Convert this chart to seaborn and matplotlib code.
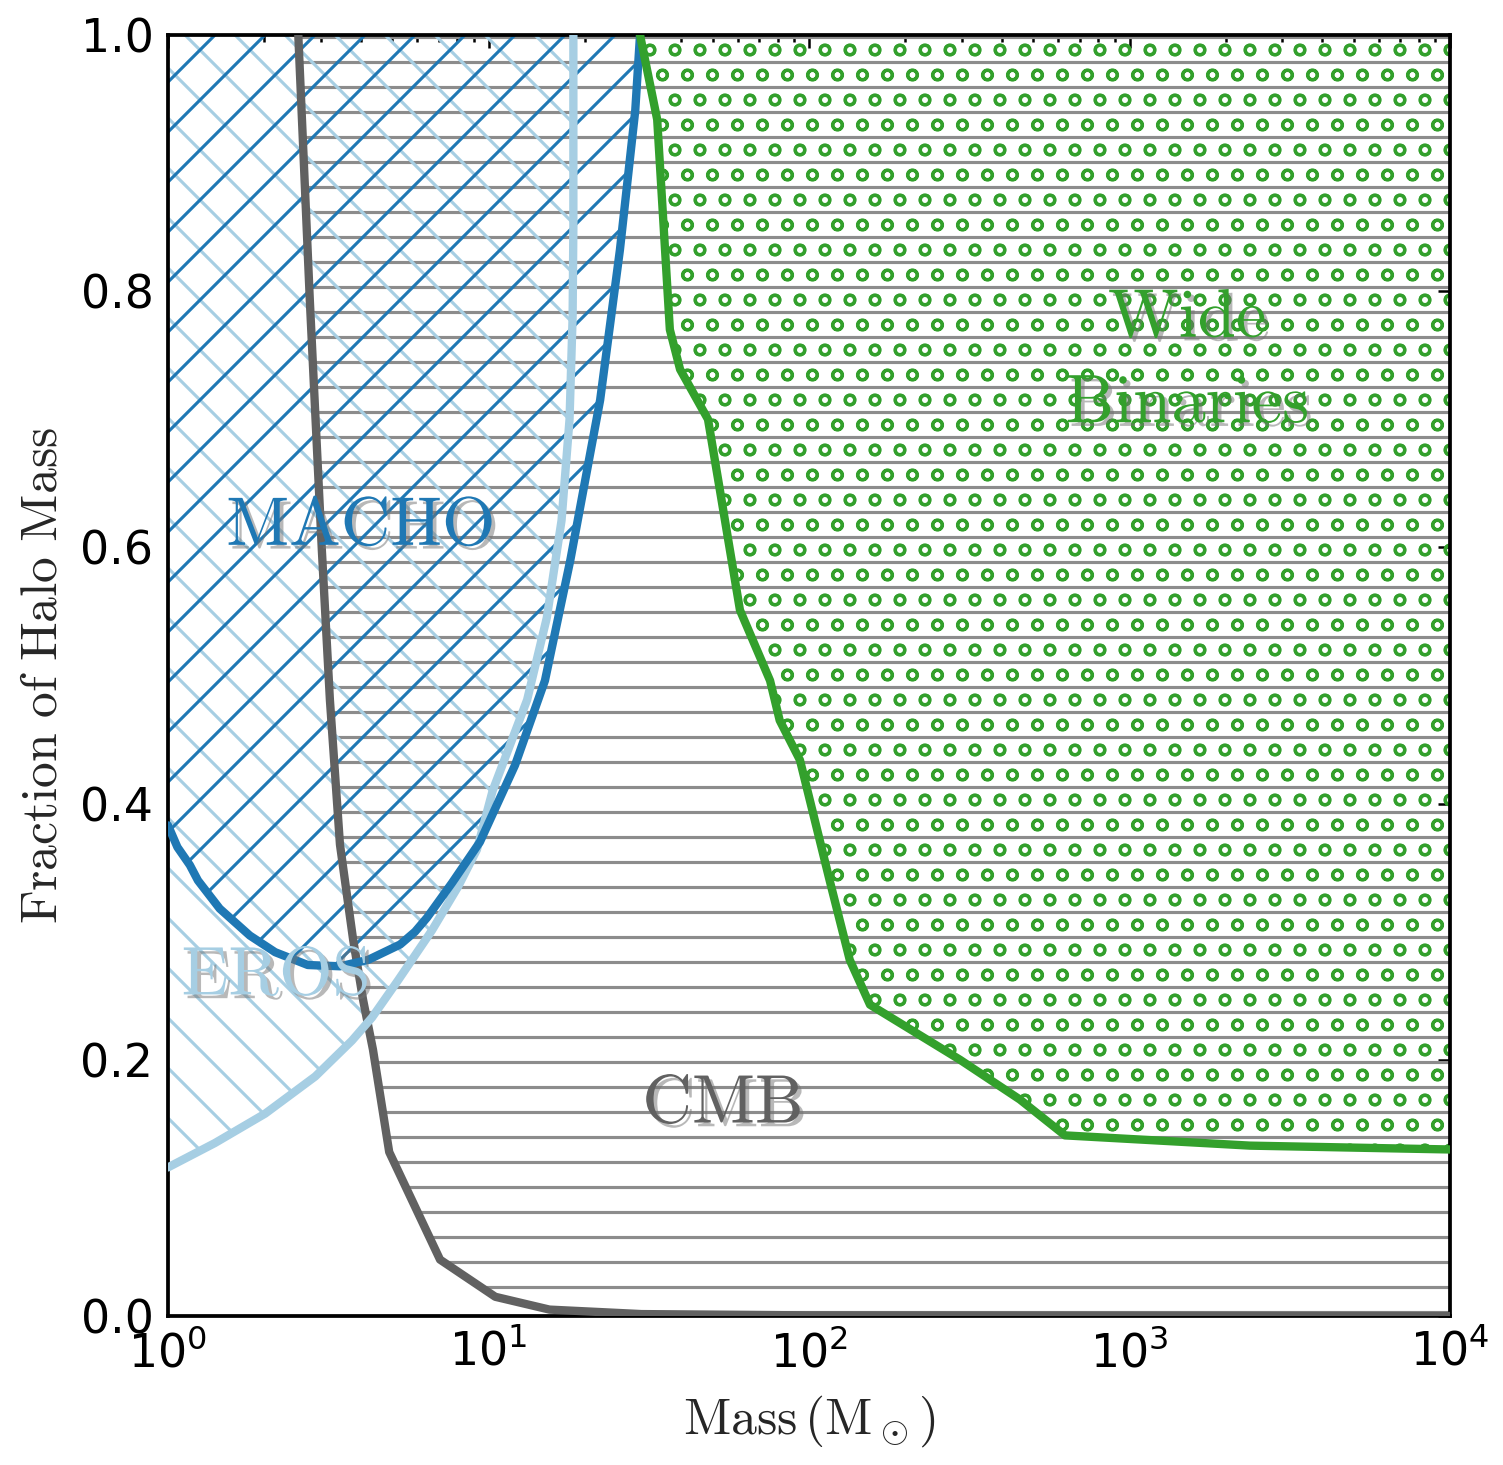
import numpy as np
import matplotlib
matplotlib.use('Agg')
import matplotlib.pyplot as plt
import matplotlib.patheffects as pe
from matplotlib.ticker import LogLocator, FixedLocator
import seaborn as sns

# constraint curves (mass in solar masses, fraction of halo mass)
cmb_mass = [2.55, 2.77, 3.02, 3.20, 3.44, 3.78, 4.06, 4.36, 4.9, 7.06, 10.5, 15.5, 30.0, 100.0, 1e4]
cmb_frac = [1.0, 0.793, 0.598, 0.481, 0.368, 0.294, 0.247, 0.208, 0.128, 0.044, 0.015, 0.005, 0.0015, 0.0005, 0.0]

macho_mass = [1.0, 1.07, 1.17, 1.24, 1.45, 1.80, 2.16, 2.73, 3.44, 4.21, 5.30, 5.9, 6.43, 7.69, 9.4, 12.1, 15.0, 18.0, 22.3, 25.7, 28.7, 29.7]
macho_frac = [0.383, 0.366, 0.352, 0.340, 0.318, 0.297, 0.284, 0.274, 0.273, 0.278, 0.290, 0.300, 0.311, 0.338, 0.370, 0.430, 0.496, 0.590, 0.715, 0.832, 0.941, 1.0]

eros_mass = [1.0, 1.40, 2.01, 2.88, 3.75, 4.33, 5.22, 6.66, 8.03, 9.2, 10.3, 13.2, 15.2, 16.9, 17.9, 18.3, 18.4, 18.4]
eros_frac = [0.116, 0.135, 0.158, 0.187, 0.215, 0.233, 0.262, 0.301, 0.335, 0.364, 0.41, 0.481, 0.545, 0.621, 0.70, 0.78, 0.85, 1.0]

wb_mass = [29.7, 33.6, 36.8, 39.6, 48.4, 52.7, 60.9, 75.6, 81.0, 93.7, 116.0, 134.0, 155.0, 296.0, 455.0, 629.0, 2376.0, 1e4]
wb_frac = [1.0, 0.934, 0.770, 0.739, 0.700, 0.645, 0.551, 0.496, 0.465, 0.434, 0.340, 0.278, 0.243, 0.200, 0.169, 0.141, 0.133, 0.130]

pal = sns.color_palette('Paired')
c_eros, c_macho, c_wb = pal[0], pal[1], pal[3]
c_cmb = '0.38'

sns.set_style('white')
plt.rcParams['hatch.linewidth'] = 0.75
plt.rcParams['font.family'] = ['DejaVu Sans']

fig = plt.figure(figsize=(1503 / 300, 1465 / 300), dpi=300)
ax = fig.add_axes([168 / 1503, 1 - 1316 / 1465, (1450 - 168) / 1503, (1316 - 35) / 1465])

ax.fill_between(cmb_mass, cmb_frac, 1, facecolor='none', edgecolor='0.55', hatch='--', linewidth=0, zorder=1)
ax.fill_between(eros_mass, eros_frac, 1, facecolor='none', edgecolor=c_eros, hatch='\\\\', linewidth=0, zorder=1)
ax.fill_between(macho_mass, macho_frac, 1, facecolor='none', edgecolor=c_macho, hatch='//', linewidth=0, zorder=1)
ax.fill_between(wb_mass, wb_frac, 1, facecolor='none', edgecolor=c_wb, hatch='oo', linewidth=0, zorder=1)

for xs, ys, c in [(cmb_mass, cmb_frac, c_cmb), (eros_mass, eros_frac, c_eros),
                  (macho_mass, macho_frac, c_macho), (wb_mass, wb_frac, c_wb)]:
    sns.lineplot(x=xs, y=ys, sort=False, estimator=None, color=c, lw=2.0, ax=ax, zorder=3)

ax.set_xscale('log')
ax.set_xlim(1, 1e4)
ax.set_ylim(0, 1)
ax.yaxis.set_major_locator(FixedLocator([0, 0.2, 0.4, 0.6, 0.8, 1.0]))
ax.xaxis.set_major_locator(LogLocator(base=10))
ax.xaxis.set_minor_locator(LogLocator(base=10, subs=np.arange(2, 10)))
ax.tick_params(which='both', direction='in', top=True, right=True, labelsize=11, width=0.6, colors='k')
ax.tick_params(which='major', length=3)
ax.tick_params(which='minor', length=1.6)
for s in ax.spines.values():
    s.set_linewidth(0.9)
    s.set_color('k')

ax.set_xlabel(r'$\mathrm{Mass\,(M_\odot)}$', fontsize=12.4, math_fontfamily='cm', labelpad=4)
ax.set_ylabel(r'$\mathrm{Fraction\ of\ Halo\ Mass}$', fontsize=12.4, math_fontfamily='cm', labelpad=3)

shadow = [pe.withSimplePatchShadow(offset=(0.9, -0.9), shadow_rgbFace='0.45', alpha=0.5)]
labels = [('MACHO', 3.97, 0.617, c_macho), ('EROS', 2.16, 0.266, c_eros),
          ('CMB', 53.5, 0.166, c_cmb), ('Wide\nBinaries', 1513, 0.746, c_wb)]
for txt, lx, ly, c in labels:
    math = r'$\mathrm{' + txt.replace('\n', '}$' + '\n' + r'$\mathrm{') + '}$'
    ax.text(lx, ly, math, color=c, fontsize=16.5, math_fontfamily='cm', ha='center', va='center',
            multialignment='center', linespacing=1.35, path_effects=shadow, zorder=4)

fig.savefig('out.png', dpi=300)
